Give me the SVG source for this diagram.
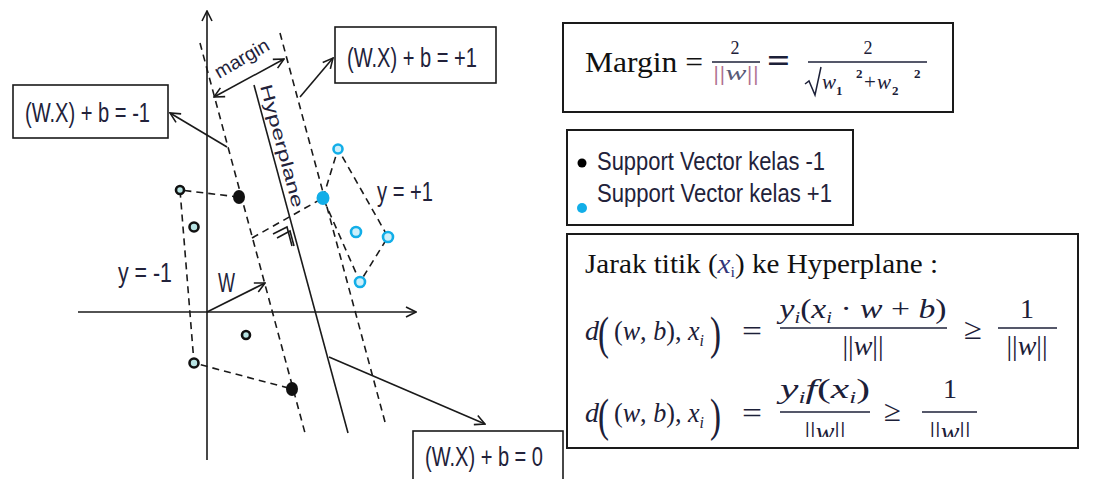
<svg xmlns="http://www.w3.org/2000/svg" width="1094" height="479" viewBox="0 0 1094 479">
<style>
.ln{stroke:#1a1a1a;stroke-width:1.6;fill:none}
.ds{stroke:#1a1a1a;stroke-width:1.6;fill:none;stroke-dasharray:7,5}
.box{fill:#fff;stroke:#1a1a1a;stroke-width:1.6}
.pbox{fill:#fff;stroke:#1a1a1a;stroke-width:2}
.lab{font-family:"Liberation Sans",Arial,sans-serif;font-size:27px;fill:#22223a}
.ser{font-family:"Liberation Serif","Times New Roman",serif;fill:#111}
.m{font-family:"Liberation Serif","Times New Roman",serif;fill:#1c2038}
.it{font-style:italic}
.bar{stroke:#1c2038;stroke-width:1.6}
.pk{fill:#b07090}
.blk{fill:#b8e4e4;stroke:#111;stroke-width:2.6}
.blu{fill:#cdeffa;stroke:#12aee8;stroke-width:2.6}
</style>
<defs>
<marker id="ah" viewBox="0 0 12 12" refX="11" refY="6" markerWidth="12" markerHeight="12" markerUnits="userSpaceOnUse" orient="auto-start-reverse">
<path d="M1,1 L11,6 L1,11" fill="none" stroke="#1a1a1a" stroke-width="1.6"/>
</marker>
<clipPath id="clipb"><rect x="560" y="230" width="520" height="207"/></clipPath>
</defs>
<rect width="1094" height="479" fill="#fff"/>

<g id="connectors">
<line class="ln" x1="78" y1="312" x2="416" y2="312" marker-end="url(#ah)"/>
<line class="ln" x1="207" y1="460" x2="207" y2="11" marker-end="url(#ah)"/>
<line class="ds" x1="200" y1="43" x2="305" y2="433"/>
<line class="ds" x1="280" y1="33" x2="385" y2="422"/>
<line class="ln" x1="254" y1="85" x2="348" y2="433"/>
<polyline class="ds" points="239,197 180,190 194,363 292,389"/>
<polyline class="ds" points="323,198 338,149 388,237 360,282 323,198"/>
<line class="ds" x1="252" y1="238" x2="323" y2="198"/>
<polyline class="ln" stroke-width="1.2" points="273,234 287,227 292,246"/>
<polyline class="ln" stroke-width="1.2" points="277,238 290,231 294,246"/>
<line class="ln" x1="214" y1="97" x2="284" y2="59" marker-start="url(#ah)" marker-end="url(#ah)"/>
<line class="ln" x1="227" y1="147" x2="170" y2="113" marker-end="url(#ah)"/>
<line class="ln" x1="300" y1="97" x2="333" y2="58" marker-end="url(#ah)"/>
<line class="ln" x1="329" y1="357" x2="485" y2="424" marker-end="url(#ah)"/>
<line class="ln" x1="207" y1="312" x2="265" y2="283" marker-end="url(#ah)"/>
</g>

<g id="points">
<circle class="blk" cx="180" cy="190" r="4"/>
<circle class="blk" cx="194" cy="227" r="4.5"/>
<circle class="blk" cx="246" cy="335" r="4"/>
<circle class="blk" cx="194" cy="363" r="4.5"/>
<ellipse cx="239" cy="197" rx="6" ry="7" fill="#111"/>
<ellipse cx="292" cy="389" rx="6" ry="7" fill="#111"/>
<circle class="blu" cx="338" cy="149" r="4.5"/>
<circle class="blu" cx="356" cy="232" r="5"/>
<circle class="blu" cx="388" cy="237" r="5"/>
<circle class="blu" cx="360" cy="282" r="5"/>
<ellipse cx="323" cy="198" rx="6.5" ry="7" fill="#12aee8"/>
</g>

<g id="axis-labels">
<text class="lab" x="118" y="282" textLength="54" lengthAdjust="spacingAndGlyphs">y = -1</text>
<text class="lab" x="377" y="201" textLength="56" lengthAdjust="spacingAndGlyphs">y = +1</text>
<text class="lab" x="218" y="292" textLength="17" lengthAdjust="spacingAndGlyphs">W</text>
<text class="lab" style="font-size:19px" transform="translate(219,79) rotate(-30)" textLength="60" lengthAdjust="spacingAndGlyphs">margin</text>
<text class="lab" style="font-size:17px" transform="translate(260,86) rotate(75)" textLength="127" lengthAdjust="spacingAndGlyphs">Hyperplane</text>
</g>

<g id="label-minus1">
<rect class="box" x="13" y="85" width="155" height="53"/>
<text class="lab" x="25" y="122" textLength="125" lengthAdjust="spacingAndGlyphs">(W.X) + b = -1</text>
</g>
<g id="label-plus1">
<rect class="box" x="335" y="27" width="161" height="56"/>
<text class="lab" x="347" y="67" textLength="130" lengthAdjust="spacingAndGlyphs">(W.X) + b = +1</text>
</g>
<g id="label-zero">
<rect class="box" x="413" y="431" width="150" height="60"/>
<text class="lab" x="425" y="466" textLength="118" lengthAdjust="spacingAndGlyphs">(W.X) + b = 0</text>
</g>

<g id="margin-box">
<rect class="pbox" x="563" y="23" width="390" height="89"/>
<text class="ser" x="585" y="72" font-size="30" textLength="118" lengthAdjust="spacingAndGlyphs">Margin =</text>
<text class="m" x="735" y="54" font-size="18" text-anchor="middle">2</text>
<line class="bar" x1="712" y1="62" x2="760" y2="62"/>
<text class="m" x="736" y="80" font-size="20" text-anchor="middle" textLength="46" lengthAdjust="spacingAndGlyphs"><tspan class="pk">||</tspan><tspan class="it" fill="#5a5a78">w</tspan><tspan class="pk">||</tspan></text>
<text class="m" x="767" y="72" font-size="34" font-weight="bold" textLength="23" lengthAdjust="spacingAndGlyphs">=</text>
<text class="m" x="868" y="54" font-size="18" text-anchor="middle">2</text>
<line class="bar" x1="808" y1="62" x2="927" y2="62" stroke-width="2"/>
<path d="M805,84 L809,81 L815,95 L821,67" fill="none" stroke="#1c2038" stroke-width="1.5"/>
<text class="m it" x="822" y="89" font-size="21">w</text>
<text class="m" x="836" y="95" font-size="13" font-weight="bold">1</text>
<text class="m" x="856" y="78" font-size="13" font-weight="bold">2</text>
<text class="m" x="864" y="89" font-size="21">+</text>
<text class="m it" x="877" y="89" font-size="21">w</text>
<text class="m" x="892" y="95" font-size="13" font-weight="bold">2</text>
<text class="m" x="914" y="78" font-size="13" font-weight="bold">2</text>
</g>

<g id="legend-box">
<rect class="pbox" x="567" y="130" width="286" height="95"/>
<circle cx="582" cy="163" r="4.5" fill="#000"/>
<text class="lab" x="597" y="170" style="font-size:25px" textLength="228" lengthAdjust="spacingAndGlyphs">Support Vector kelas -1</text>
<circle cx="582" cy="208" r="5" fill="#12aee8"/>
<text class="lab" x="597" y="202" style="font-size:25px" textLength="235" lengthAdjust="spacingAndGlyphs">Support Vector kelas +1</text>
</g>

<g id="distance-box">
<rect class="pbox" x="567" y="234" width="511" height="214"/>
<text class="ser" x="585" y="273" font-size="27" textLength="353" lengthAdjust="spacingAndGlyphs">Jarak titik (<tspan class="it" fill="#33357a">x</tspan><tspan font-size="15" fill="#33357a" dy="4">i</tspan><tspan dy="-4">) ke Hyperplane :</tspan></text>

<text class="m it" x="585" y="340" font-size="28">d</text>
<text class="m" x="598" y="349" font-size="46" textLength="11" lengthAdjust="spacingAndGlyphs">(</text>
<text class="m" x="614" y="340" font-size="28" textLength="90" lengthAdjust="spacingAndGlyphs">(<tspan class="it">w</tspan>, <tspan class="it">b</tspan>), <tspan class="it">x</tspan><tspan class="it" font-size="17" dy="6">i</tspan></text>
<text class="m" x="710" y="349" font-size="46" textLength="11" lengthAdjust="spacingAndGlyphs">)</text>
<text class="m" x="742" y="341" font-size="30" textLength="20" lengthAdjust="spacingAndGlyphs">=</text>
<text class="m" x="863" y="318" font-size="28" text-anchor="middle" textLength="167" lengthAdjust="spacingAndGlyphs"><tspan class="it">y</tspan><tspan class="it" font-size="17" dy="5">i</tspan><tspan dy="-5">(</tspan><tspan class="it">x</tspan><tspan class="it" font-size="17" dy="5">i</tspan><tspan dy="-5"> · </tspan><tspan class="it">w</tspan> + <tspan class="it">b</tspan>)</text>
<line class="bar" x1="780" y1="328" x2="947" y2="328"/>
<text class="m" x="863" y="355" font-size="28" text-anchor="middle">||<tspan class="it">w</tspan>||</text>
<text class="m" x="964" y="339" font-size="30" textLength="18" lengthAdjust="spacingAndGlyphs">≥</text>
<text class="m" x="1027" y="318" font-size="28" text-anchor="middle">1</text>
<line class="bar" x1="998" y1="328" x2="1057" y2="328"/>
<text class="m" x="1027" y="355" font-size="28" text-anchor="middle">||<tspan class="it">w</tspan>||</text>

<text class="m it" x="585" y="422" font-size="28">d</text>
<text class="m" x="598" y="431" font-size="46" textLength="11" lengthAdjust="spacingAndGlyphs">(</text>
<text class="m" x="614" y="422" font-size="28" textLength="90" lengthAdjust="spacingAndGlyphs">(<tspan class="it">w</tspan>, <tspan class="it">b</tspan>), <tspan class="it">x</tspan><tspan class="it" font-size="17" dy="6">i</tspan></text>
<text class="m" x="710" y="431" font-size="46" textLength="11" lengthAdjust="spacingAndGlyphs">)</text>
<text class="m" x="742" y="423" font-size="30" textLength="20" lengthAdjust="spacingAndGlyphs">=</text>
<text class="m" x="825" y="398" font-size="28" text-anchor="middle" textLength="90" lengthAdjust="spacingAndGlyphs"><tspan class="it">y</tspan><tspan class="it" font-size="17" dy="5">i</tspan><tspan class="it" dy="-5">f</tspan>(<tspan class="it">x</tspan><tspan class="it" font-size="17" dy="5">i</tspan><tspan dy="-5">)</tspan></text>
<line class="bar" x1="780" y1="412" x2="870" y2="412"/>
<text class="m" x="884" y="421" font-size="30" textLength="17" lengthAdjust="spacingAndGlyphs">≥</text>
<text class="m" x="950" y="398" font-size="28" text-anchor="middle">1</text>
<line class="bar" x1="922" y1="412" x2="977" y2="412"/>
<g clip-path="url(#clipb)">
<text class="m" x="825" y="441" font-size="28" text-anchor="middle">||<tspan class="it">w</tspan>||</text>
<text class="m" x="950" y="441" font-size="28" text-anchor="middle">||<tspan class="it">w</tspan>||</text>
</g>
</g>
</svg>
